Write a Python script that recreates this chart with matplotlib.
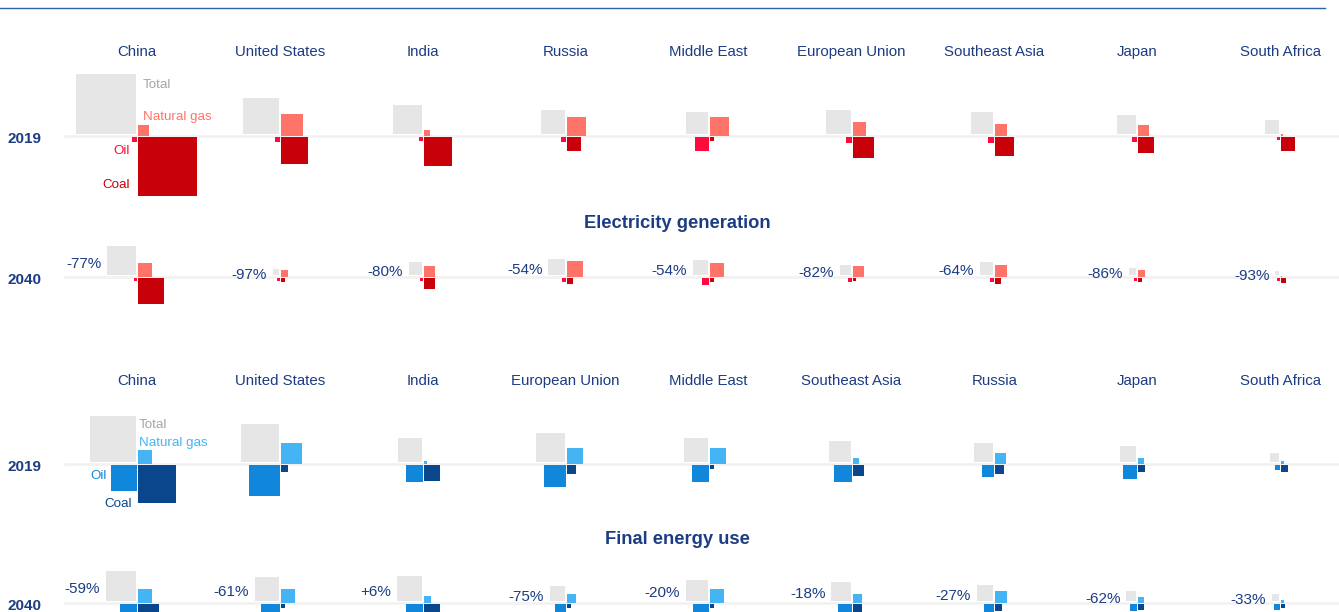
"""
Square-area chart: CO2 emissions by fuel, 2019 vs 2040, for the largest emitters.

Each cell has four squares meeting at one point on the baseline:
total (upper left), natural gas (upper right), oil (lower left), coal (lower right).
Square area is proportional to emissions (Mt CO2).
"""

import matplotlib
matplotlib.use("Agg")
import matplotlib.pyplot as plt
from matplotlib.patches import Rectangle
import numpy as np

# ---- data (Mt CO2) ---------------------------------------------------------
elec_countries = ["China", "United States", "India", "Russia", "Middle East",
                  "European Union", "Southeast Asia", "Japan", "South Africa"]
elec_total_2019 = [4600, 1660, 1075, 740, 620, 740, 620, 460, 250]
elec_gas_2019 = [155, 620, 46, 460, 460, 250, 185, 155, 5]
elec_oil_2019 = [32, 32, 20, 32, 250, 46, 46, 32, 12]
elec_coal_2019 = [4500, 930, 1050, 250, 20, 565, 460, 330, 250]
elec_total_2040 = [1060, 50, 215, 340, 285, 135, 225, 65, 18]
elec_gas_2040 = [250, 63, 155, 330, 250, 155, 185, 63, 2]
elec_oil_2040 = [12, 12, 12, 20, 63, 20, 20, 12, 12]
elec_coal_2040 = [865, 20, 155, 46, 20, 12, 46, 20, 32]
elec_change = ["-77%", "-97%", "-80%", "-54%", "-54%", "-82%", "-64%", "-86%", "-93%"]

final_countries = ["China", "United States", "India", "European Union", "Middle East",
                   "Southeast Asia", "Russia", "Japan", "South Africa"]
final_total_2019 = [2710, 1850, 737, 1075, 737, 565, 460, 330, 105]
final_gas_2019 = [250, 565, 12, 330, 330, 46, 155, 46, 12]
final_oil_2019 = [865, 1230, 370, 620, 370, 370, 185, 250, 32]
final_coal_2019 = [1850, 63, 330, 105, 20, 155, 105, 63, 63]
final_total_2040 = [1150, 737, 780, 270, 590, 463, 336, 125, 70]
final_gas_2040 = [250, 250, 63, 105, 250, 105, 185, 46, 12]
final_oil_2040 = [370, 460, 370, 155, 330, 250, 128, 63, 46]
final_coal_2040 = [565, 20, 330, 20, 20, 105, 63, 46, 20]
final_change = ["-59%", "-61%", "+6%", "-75%", "-20%", "-18%", "-27%", "-62%", "-33%"]

# ---- style ------------------------------------------------------------------
NAVY = "#1c3c84"
GREY = "#e6e6e6"
ELEC_COLORS = {"gas": "#ff7469", "oil": "#ff0a3c", "coal": "#c8000a"}
FINAL_COLORS = {"gas": "#45b4f5", "oil": "#1187dc", "coal": "#0a468c"}

plt.rcParams["font.family"] = ["Liberation Sans", "DejaVu Sans"]

W, H = 1339, 612
K = 60 / np.sqrt(4600)          # px of side per sqrt(Mt)
X0, DX = 137, 142.9             # first column centre, column spacing
TY = 2                          # small downward nudge for all text


def side(v):
    return K * np.sqrt(v)


def draw_cell(ax, cx, base, total, gas, oil, coal, colors):
    st, sg, so, sc = side(total), side(gas), side(oil), side(coal)
    ax.add_patch(Rectangle((cx - 1 - st, base - 2 - st), st, st, color=GREY, lw=0))
    ax.add_patch(Rectangle((cx + 1, base - sg), sg, sg, color=colors["gas"], lw=0))
    ax.add_patch(Rectangle((cx - so, base + 1), so, so, color=colors["oil"], lw=0))
    ax.add_patch(Rectangle((cx + 1, base + 1), sc, sc, color=colors["coal"], lw=0))
    return st


def draw_panel(ax, countries, rows, change, colors, title_y, base19, base40,
               section, section_y):
    for i, name in enumerate(countries):
        ax.text(X0 + DX * i, title_y + TY, name, ha="center", va="center",
                fontsize=10.8, color=NAVY)
    for base, label in ((base19, "2019"), (base40, "2040")):
        ax.plot([65, W], [base, base], color="#f2f2f2", lw=2, zorder=0)
        ax.text(8, base + 1 + TY, label, ha="left", va="center", fontsize=11,
                fontweight="bold", color=NAVY)
    (t19, g19, o19, c19), (t40, g40, o40, c40) = rows
    for i in range(len(countries)):
        cx = X0 + DX * i
        draw_cell(ax, cx, base19, t19[i], g19[i], o19[i], c19[i], colors)
        st = draw_cell(ax, cx, base40, t40[i], g40[i], o40[i], c40[i], colors)
        ax.text(cx - st - 7, base40 - st / 2 - 1 + TY, change[i], ha="right",
                va="center", fontsize=11, color=NAVY)
    ax.text(677, section_y + TY, section, ha="center", va="center", fontsize=13.2,
            fontweight="bold", color=NAVY)


fig = plt.figure(figsize=(W / 100, H / 100), dpi=100)
ax = fig.add_axes([0, 0, 1, 1])
ax.set_xlim(0, W)
ax.set_ylim(H, 0)
ax.axis("off")

ax.plot([0, 1325], [8, 8], color="#2f5fae", lw=1.0)

draw_panel(ax, elec_countries,
           ((elec_total_2019, elec_gas_2019, elec_oil_2019, elec_coal_2019),
            (elec_total_2040, elec_gas_2040, elec_oil_2040, elec_coal_2040)),
           elec_change, ELEC_COLORS, 50, 136, 277, "Electricity generation", 222)
draw_panel(ax, final_countries,
           ((final_total_2019, final_gas_2019, final_oil_2019, final_coal_2019),
            (final_total_2040, final_gas_2040, final_oil_2040, final_coal_2040)),
           final_change, FINAL_COLORS, 379, 464, 603, "Final energy use", 538)

# legend labels next to the China squares
lab = dict(fontsize=9.6, va="center")
ax.text(X0 + 6, 83 + TY, "Total", color="#a6a6a6", ha="left", **lab)
ax.text(X0 + 6, 115 + TY, "Natural gas", color=ELEC_COLORS["gas"], ha="left", **lab)
ax.text(X0 - 7, 149 + TY, "Oil", color=ELEC_COLORS["oil"], ha="right", **lab)
ax.text(X0 - 7, 183 + TY, "Coal", color=ELEC_COLORS["coal"], ha="right", **lab)
ax.text(X0 + 2, 423 + TY, "Total", color="#a6a6a6", ha="left", **lab)
ax.text(X0 + 2, 441 + TY, "Natural gas", color=FINAL_COLORS["gas"], ha="left", **lab)
ax.text(X0 - 30, 474 + TY, "Oil", color=FINAL_COLORS["oil"], ha="right", **lab)
ax.text(X0 - 5, 502 + TY, "Coal", color=FINAL_COLORS["coal"], ha="right", **lab)

fig.savefig("out.png", dpi=100)
